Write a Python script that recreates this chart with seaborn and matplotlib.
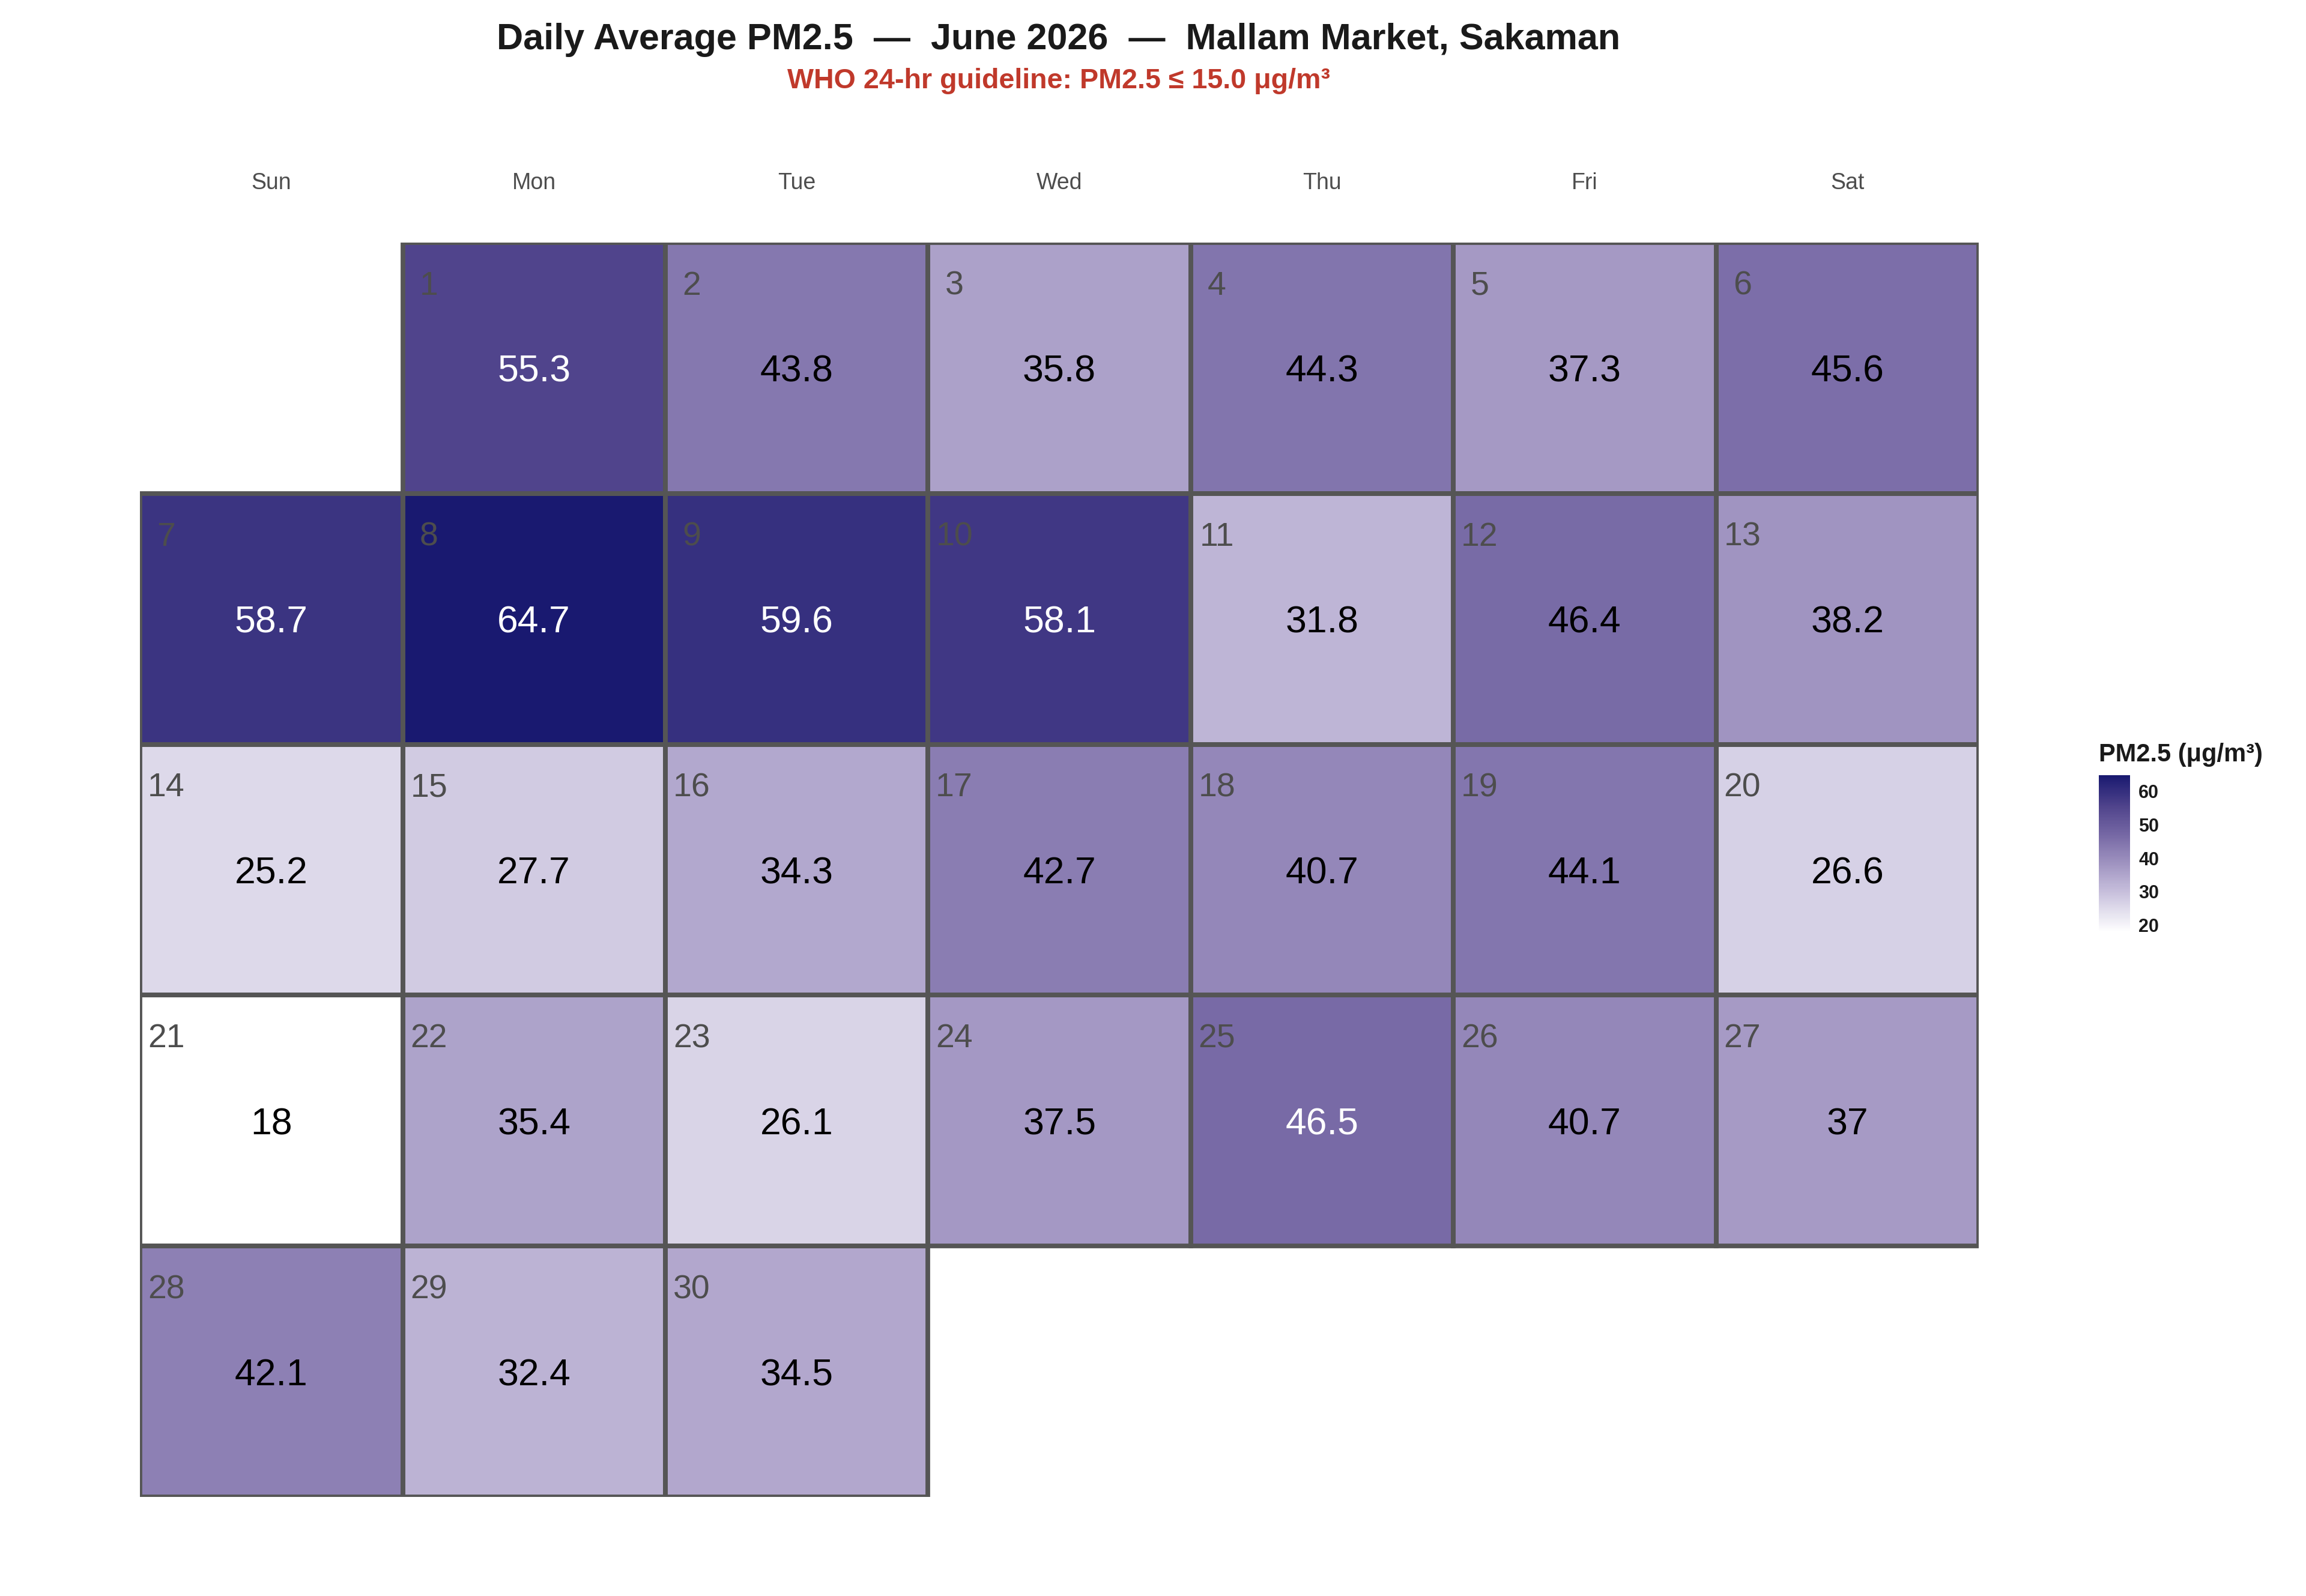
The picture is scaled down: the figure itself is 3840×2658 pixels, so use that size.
import calendar
import numpy as np
import pandas as pd
import matplotlib
import matplotlib.pyplot as plt
import seaborn as sns
from matplotlib.colors import LinearSegmentedColormap, Normalize
from matplotlib.patches import Rectangle

# data
year, month = 2026, 6
days = list(range(1, 31))
pm25 = [55.3, 43.8, 35.8, 44.3, 37.3, 45.6,
        58.7, 64.7, 59.6, 58.1, 31.8, 46.4, 38.2,
        25.2, 27.7, 34.3, 42.7, 40.7, 44.1, 26.6,
        18.0, 35.4, 26.1, 37.5, 46.5, 40.7, 37.0,
        42.1, 32.4, 34.5]
weekdays = ['Sun', 'Mon', 'Tue', 'Wed', 'Thu', 'Fri', 'Sat']
cbar_ticks = [20, 30, 40, 50, 60]
who_limit = 15.0

title = 'Daily Average PM2.5  \u2014  June 2026  \u2014  Mallam Market, Sakaman'
subtitle = f'WHO 24-hr guideline: PM2.5 \u2264 {who_limit:.1f} \u03bcg/m\u00b3'

# build calendar grid (weeks x weekday, Sunday first)
cal = calendar.Calendar(firstweekday=6)
weeks = cal.monthdayscalendar(year, month)
lookup = dict(zip(days, pm25))
grid = pd.DataFrame([[lookup.get(d, np.nan) if d else np.nan for d in wk] for wk in weeks],
                    columns=weekdays)
daynum = [[d for d in wk] for wk in weeks]

vmin, vmax = min(pm25), max(pm25)
cmap = LinearSegmentedColormap.from_list('pm', [
    (0.0, '#FFFFFF'), (0.154, '#DDD9EA'), (0.296, '#BEB5D6'), (0.433, '#A094C1'),
    (0.61, '#786AA6'), (0.799, '#50448C'), (1.0, '#191970')])

sns.set_theme(style='white')
plt.rcParams['font.family'] = ['Liberation Sans', 'DejaVu Sans']

fig = plt.figure(figsize=(19.2, 13.29), dpi=200)
ax = fig.add_axes([0.0607, 0.0621, 0.7974, 0.7859])
cax = fig.add_axes([0.9102, 0.4161, 0.01354, 0.0982])

sns.heatmap(grid, ax=ax, cmap=cmap, vmin=vmin, vmax=vmax, cbar_ax=cax,
            linewidths=0, square=False, xticklabels=False, yticklabels=False)

line_col = '#555555'
for r, wk in enumerate(daynum):
    for c, d in enumerate(wk):
        if d == 0:
            continue
        v = lookup[d]
        ax.add_patch(Rectangle((c, r), 1, 1, fill=False, ec=line_col, lw=2.8, zorder=3))
        ax.text(c + 0.1, r + 0.208, str(d), ha='center', va='baseline',
                fontsize=20, color='#4D4D4D', zorder=4)
        ax.text(c + 0.5, r + 0.555, f'{v:g}', ha='center', va='baseline',
                fontsize=22.5, color='white' if v > 46.45 else 'black', zorder=4)

for c, name in enumerate(weekdays):
    ax.text(c + 0.5, -0.213, name, ha='center', va='baseline',
            fontsize=13.5, color='#4D4D4D', clip_on=False)

ax.set_xlim(0, 7)
ax.set_ylim(len(weeks), 0)
for s in ax.spines.values():
    s.set_visible(False)
ax.set_xlabel('')
ax.set_ylabel('')

# colorbar
cb = ax.collections[0].colorbar
cb.outline.set_visible(False)
cb.set_ticks(cbar_ticks)
cb.ax.tick_params(direction='in', color='white', length=3.5, width=1,
                  left=True, right=True, labelsize=11, pad=5)
for lbl in cb.ax.get_yticklabels():
    lbl.set_fontweight('bold')
    lbl.set_color('#1A1A1A')
fig.text(0.9102, 0.523, 'PM2.5 (\u03bcg/m\u00b3)', ha='left', va='baseline',
         fontsize=15, fontweight='bold', color='#1A1A1A')

fig.text(0.459, 0.9692, title, ha='center', va='baseline',
         fontsize=22, fontweight='bold', color='#1A1A1A')
fig.text(0.459, 0.9447, subtitle, ha='center', va='baseline',
         fontsize=16.8, fontweight='bold', color='#C0392B')

fig.savefig('out.png', dpi=200, facecolor='white')
plt.close(fig)
